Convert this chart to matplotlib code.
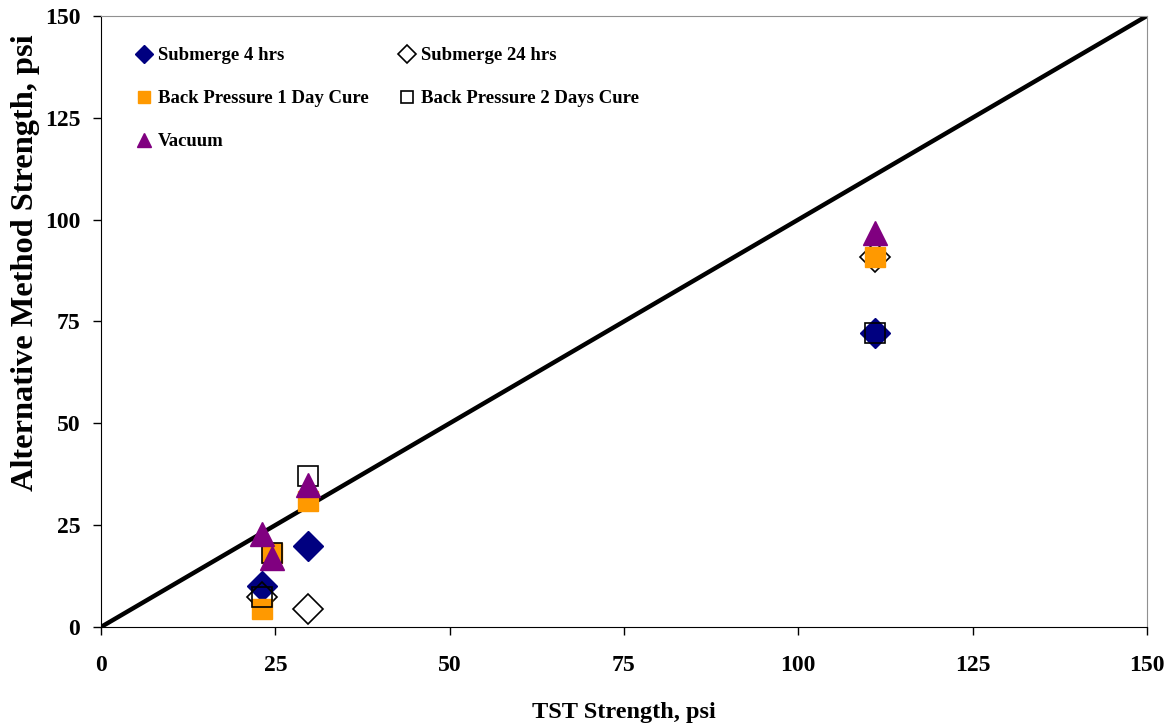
import matplotlib.pyplot as plt
import numpy as np

plt.rcParams['font.family'] = ['Liberation Serif', 'DejaVu Serif']
plt.rcParams['font.weight'] = 'bold'

# data (TST strength vs alternative method strength, psi)
sub4_x = [23.1, 29.7, 111.0]
sub4_y = [10.1, 19.9, 72.2]
sub24_x = [23.1, 29.7, 111.0]
sub24_y = [7.4, 4.3, 90.8]
bp1_x = [23.1, 24.5, 29.7, 111.0]
bp1_y = [4.4, 18.2, 30.9, 90.8]
bp2_x = [23.1, 24.5, 29.7, 111.0]
bp2_y = [7.4, 18.2, 37.1, 72.2]
vac_x = [23.1, 24.5, 29.7, 111.0]
vac_y = [22.8, 17.0, 34.9, 96.7]

ticks = [0, 25, 50, 75, 100, 125, 150]

fig = plt.figure(figsize=(11.75, 7.26), dpi=100)
ax = fig.add_axes([0.086, 0.1364, 0.890, 0.8416])

ax.plot([0, 150], [0, 150], color='black', lw=3.2, zorder=2)

h1, = ax.plot(sub4_x, sub4_y, 'D', ms=15.5, color='#000080', mec='#000080', ls='none',
              label='Submerge 4 hrs', zorder=3)
h2, = ax.plot(sub24_x, sub24_y, 'D', ms=15, mfc='none', mec='black', mew=1.2, ls='none',
              label='Submerge 24 hrs', zorder=4)
h3, = ax.plot(bp1_x, bp1_y, 's', ms=15, color='#FF9900', mec='#FF9900', ls='none',
              label='Back Pressure 1 Day Cure', zorder=5)
h4, = ax.plot(bp2_x, bp2_y, 's', ms=15, mfc='none', mec='black', mew=1.2, ls='none',
              label='Back Pressure 2 Days Cure', zorder=6)
h5, = ax.plot(vac_x, vac_y, '^', ms=17, color='#800080', mec='#800080', ls='none',
              label='Vacuum', zorder=7)

ax.set_xlim(0, 150)
ax.set_ylim(0, 150)
ax.set_xticks(ticks)
ax.set_yticks(ticks)
ax.tick_params(direction='out', length=6, width=1, labelsize=17)
ax.tick_params(axis='x', pad=14)
ax.tick_params(axis='y', pad=9)
for lab in ax.get_xticklabels() + ax.get_yticklabels():
    lab.set_fontweight('bold')

for s in ['left', 'bottom']:
    ax.spines[s].set_color('black')
for s in ['top', 'right']:
    ax.spines[s].set_color('#909090')

ax.set_xlabel('TST Strength, psi', fontsize=17.5, fontweight='bold', labelpad=19)
ax.set_ylabel('Alternative Method Strength, psi', fontsize=23.3, fontweight='bold')
ax.yaxis.set_label_coords(-0.058, 0.597)

# row-wise legend order: matplotlib fills columns first
handles = [h1, h3, h5, h2, h4]
leg = ax.legend(handles=handles, labels=[h.get_label() for h in handles],
                loc='upper left', bbox_to_anchor=(137 / 1175, 1 - 47 / 726),
                bbox_transform=fig.transFigure, ncol=2, frameon=False,
                fontsize=13.5, markerscale=0.6, handlelength=0.7, handletextpad=0.4,
                labelspacing=1.38, columnspacing=1.72, borderpad=0, borderaxespad=0)
for t in leg.get_texts():
    t.set_fontweight('bold')

fig.savefig('out.png', dpi=100)
